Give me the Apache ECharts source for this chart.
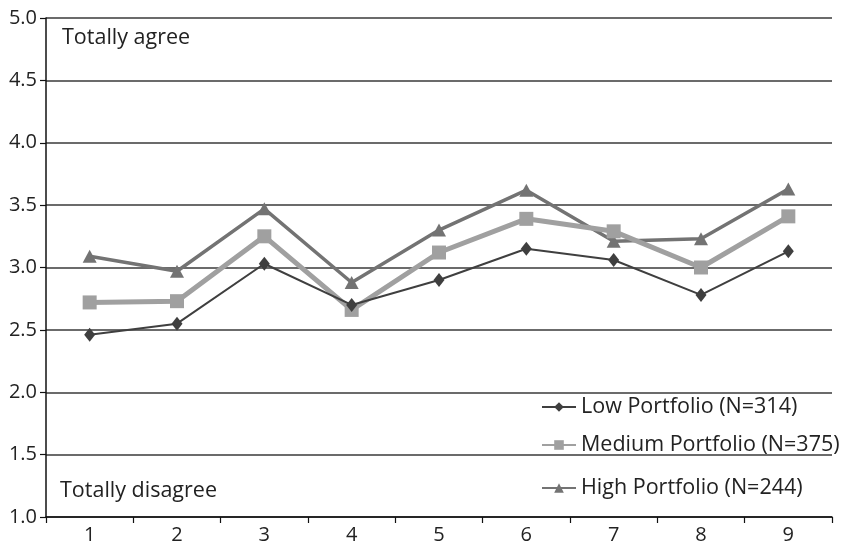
<!DOCTYPE html>
<html><head><meta charset="utf-8">
<script src="https://cdn.jsdelivr.net/npm/echarts@6/dist/echarts.min.js"></script>
<style>html,body{margin:0;padding:0;background:#fff}#c{width:842px;height:545px}</style>
</head><body><div id="c"></div>
<script>
var categories = ['1','2','3','4','5','6','7','8','9'];
var lowValues = [2.46, 2.55, 3.03, 2.70, 2.90, 3.15, 3.06, 2.78, 3.13];
var mediumValues = [2.72, 2.73, 3.25, 2.66, 3.12, 3.39, 3.29, 3.00, 3.41];
var highValues = [3.09, 2.97, 3.47, 2.88, 3.30, 3.62, 3.21, 3.23, 3.63];
var seriesNames = ['Low Portfolio (N=314)', 'Medium Portfolio (N=375)', 'High Portfolio (N=244)'];
var FONT = '"Open Sans", "Noto Sans", sans-serif';
var legendTops = [396, 434, 477];
function mkLegend(i) {
  return {
    orient: 'vertical', left: 541, top: legendTops[i], padding: 0, itemWidth: 34, itemHeight: 12, itemGap: 0,
    textStyle: {color: '#222', fontSize: 21.5, fontFamily: FONT},
    data: [seriesNames[i]]
  };
}
var chart = echarts.init(document.getElementById('c'), null, {renderer:'canvas'});
chart.setOption({
  animation: false,
  backgroundColor: '#fff',
  grid: {left: 46, right: 10, top: 18, bottom: 28, containLabel: false},
  xAxis: {
    type: 'category', data: categories, boundaryGap: true,
    axisLine: {lineStyle: {color: '#111', width: 1.5}},
    axisTick: {show: true, inside: false, length: 6, alignWithLabel: false, lineStyle: {color: '#111', width: 1.2}},
    axisLabel: {color: '#222', fontSize: 20, fontFamily: FONT, margin: 8}
  },
  yAxis: {
    type: 'value', min: 1, max: 5, interval: 0.5,
    axisLine: {show: true, lineStyle: {color: '#111', width: 1.5}},
    axisTick: {show: true, length: 6, lineStyle: {color: '#111', width: 1.2}},
    axisLabel: {color: '#222', fontSize: 20, fontFamily: FONT, margin: 9, formatter: function(v){return v.toFixed(1);}},
    splitLine: {show: true, lineStyle: {color: '#3a3a3a', width: 1.5}}
  },
  legend: [mkLegend(0), mkLegend(1), mkLegend(2)],
  graphic: [
    {type: 'text', left: 62, top: 27, style: {text: 'Totally agree', fill: '#222', font: '21.5px ' + FONT}},
    {type: 'text', left: 60, top: 480, style: {text: 'Totally disagree', fill: '#222', font: '21.5px ' + FONT}}
  ],
  series: [
    {name: seriesNames[0], type: 'line', data: lowValues, symbol: 'diamond', symbolSize: [11,14],
     itemStyle: {color: '#3f3f3f'}, lineStyle: {color: '#3f3f3f', width: 2}, z: 4},
    {name: seriesNames[1], type: 'line', data: mediumValues, symbol: 'rect', symbolSize: 14,
     itemStyle: {color: '#a0a0a0'}, lineStyle: {color: '#a0a0a0', width: 5}, z: 3},
    {name: seriesNames[2], type: 'line', data: highValues, symbol: 'triangle', symbolSize: [14,13],
     itemStyle: {color: '#737373'}, lineStyle: {color: '#737373', width: 3.5}, z: 2}
  ]
});
</script></body></html>
